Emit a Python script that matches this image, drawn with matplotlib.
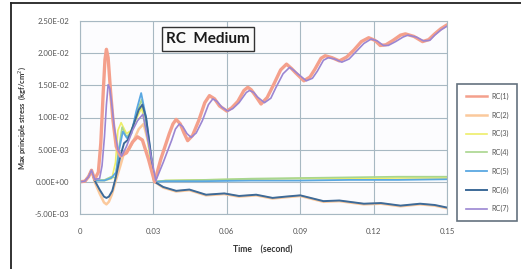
import matplotlib
matplotlib.use("Agg")
import matplotlib.pyplot as plt
from matplotlib.lines import Line2D
import numpy as np

plt.rcParams['font.family'] = ['Lato', 'DejaVu Sans']

# values, stress in units of 1e-3
SCALE = 1e-3

rc1_t = [0, 0.002, 0.0035, 0.0047, 0.006, 0.0075, 0.0085, 0.0095, 0.0102, 0.0108, 0.0115, 0.0125,
         0.0135, 0.0148, 0.0165, 0.019, 0.0215, 0.0235, 0.0255, 0.028, 0.0305, 0.033, 0.0365, 0.038,
         0.0393, 0.041, 0.0425, 0.044, 0.046, 0.0485, 0.051, 0.0529, 0.055, 0.057, 0.060, 0.062,
         0.0645, 0.067, 0.0686, 0.070, 0.0715, 0.074, 0.0765, 0.079, 0.082, 0.0844, 0.0865, 0.088,
         0.0915, 0.094, 0.096, 0.0985, 0.1002, 0.103, 0.106, 0.109, 0.112, 0.115, 0.118, 0.1205,
         0.1227, 0.125, 0.128, 0.131, 0.133, 0.1365, 0.14, 0.1425, 0.145, 0.1475, 0.15]
rc1_y = [0, 0.1, 0.8, 1.8, 0.4, 1.5, 6, 14, 19, 20.6, 19.3, 14,
         9.5, 5.5, 4, 4.5, 6.2, 7, 6.5, 3.5, 0, 3.5, 7.5, 9,
         9.7, 9.0, 7.6, 6.4, 7.2, 9.5, 12.3, 13.4, 12.9, 11.8, 11, 11.5,
         12.5, 14.2, 14.7, 14.3, 13.5, 12.1, 13.1, 15, 17.4, 18.3, 17.6, 17,
         15.7, 16.3, 17.5, 19.2, 19.6, 19.3, 18.8, 19.4, 20.5, 21.8, 22.4, 22,
         21.2, 21.3, 22, 22.8, 23, 22.6, 21.8, 22.1, 23, 23.8, 24.4]

rc2_t = [0, 0.002, 0.0035, 0.0047, 0.006, 0.008, 0.0098, 0.0108, 0.0118, 0.013, 0.0145, 0.0165,
         0.018, 0.02, 0.022, 0.024, 0.026, 0.028, 0.0305, 0.034, 0.0393, 0.0447, 0.0515, 0.059,
         0.065, 0.072, 0.0787, 0.084, 0.09, 0.0995, 0.106, 0.116, 0.123, 0.131, 0.139, 0.145, 0.15]
rc2_y = [0, 0.1, 0.8, 1.8, 0.0, -1.8, -3.2, -3.5, -3.1, -2.0, 0, 2.5,
         4.5, 5, 6.5, 8.2, 9, 6, 0, -0.9, -1.5, -1.3, -2.1, -1.9,
         -2.3, -2.1, -2.6, -2.4, -2.2, -3.1, -3.0, -3.5, -3.4, -3.8, -3.5, -3.7, -4.1]

rc3_t = [0, 0.002, 0.0035, 0.0047, 0.006, 0.01, 0.013, 0.0145, 0.0155, 0.0168, 0.019, 0.021,
         0.023, 0.0252, 0.027, 0.0302, 0.035, 0.05, 0.07, 0.09, 0.11, 0.13, 0.15]
rc3_y = [0, 0.1, 0.8, 1.8, 0.2, 0.2, 0.5, 3, 8, 9.2, 7.5, 8,
         9.8, 11.5, 8, 0, 0.2, 0.3, 0.4, 0.5, 0.5, 0.6, 0.6]

rc4_t = [0, 0.002, 0.0035, 0.0047, 0.006, 0.01, 0.0128, 0.0145, 0.0158, 0.0172, 0.019, 0.021,
         0.023, 0.0252, 0.027, 0.0302, 0.035, 0.05, 0.07, 0.09, 0.11, 0.13, 0.15]
rc4_y = [0, 0.1, 0.8, 1.8, 0.2, 0.3, 0.8, 0.6, 5, 8.5, 7, 7.8,
         10.5, 12.8, 9, 0, 0.2, 0.3, 0.5, 0.6, 0.7, 0.8, 0.8]

rc5_t = [0, 0.002, 0.0035, 0.0047, 0.006, 0.01, 0.0128, 0.0148, 0.016, 0.0175, 0.0192, 0.021,
         0.023, 0.025, 0.027, 0.0303, 0.035, 0.05, 0.07, 0.09, 0.11, 0.13, 0.15]
rc5_y = [0, 0.1, 0.8, 1.8, 0.2, 0.2, 0.6, 1.5, 5, 7.8, 6.8, 7.5,
         11, 13.8, 10, 0, 0.1, 0.1, 0.2, 0.2, 0.3, 0.3, 0.4]

rc6_t = [0, 0.002, 0.0035, 0.0047, 0.006, 0.008, 0.0098, 0.0108, 0.0118, 0.0132, 0.0145, 0.0165,
         0.018, 0.0195, 0.022, 0.024, 0.0255, 0.027, 0.0305, 0.034, 0.0393, 0.0447, 0.0515, 0.059,
         0.065, 0.072, 0.0787, 0.084, 0.09, 0.0995, 0.106, 0.116, 0.123, 0.131, 0.139, 0.145, 0.15]
rc6_y = [0, 0.1, 0.8, 1.8, 0.2, -1.2, -2.3, -2.5, -2.3, -1.4, 0.5, 4,
         6, 6.5, 9, 11.2, 12, 10, 0, -0.8, -1.4, -1.2, -2.0, -1.8,
         -2.2, -2.0, -2.5, -2.3, -2.1, -3.0, -2.9, -3.4, -3.3, -3.7, -3.4, -3.6, -4.0]

rc7_t = [0, 0.002, 0.0035, 0.0047, 0.006, 0.008, 0.009, 0.01, 0.0108, 0.0115, 0.0122, 0.013,
         0.014, 0.0155, 0.017, 0.019, 0.0215, 0.0235, 0.0257, 0.028, 0.031, 0.034, 0.0375, 0.039,
         0.0406, 0.042, 0.0437, 0.0454, 0.0475, 0.05, 0.0525, 0.0543, 0.056, 0.058, 0.0604, 0.0625,
         0.065, 0.068, 0.0693, 0.071, 0.0725, 0.0754, 0.078, 0.080, 0.083, 0.0857, 0.0875, 0.089,
         0.0925, 0.095, 0.097, 0.0995, 0.1015, 0.104, 0.107, 0.110, 0.113, 0.116, 0.119, 0.1215,
         0.124, 0.126, 0.129, 0.132, 0.134, 0.1375, 0.1405, 0.143, 0.145, 0.1475, 0.15]
rc7_y = [0, 0.1, 0.8, 1.8, 0.4, 0.5, 2.5, 7, 12, 15.1, 14.5, 12,
         8.5, 5, 4, 5.5, 8, 9.5, 10.5, 6, 0.2, 3, 6.5, 8.2,
         9, 8.6, 7.5, 6.9, 7.6, 9.5, 12, 12.9, 12.5, 11.6, 11, 11.4,
         12.3, 13.9, 14.2, 13.9, 13.2, 12.3, 13, 14.6, 16.8, 17.8, 17.3, 16.8,
         15.7, 16.1, 17.2, 18.9, 19.3, 19.1, 18.6, 19.1, 20.3, 21.5, 22.2, 21.9,
         21.2, 21.2, 21.8, 22.5, 22.8, 22.5, 21.9, 22, 22.8, 23.6, 24.2]

labels = ['RC(1)', 'RC(2)', 'RC(3)', 'RC(4)', 'RC(5)', 'RC(6)', 'RC(7)']
colors = ['#f4a08c', '#fbc99c', '#eeee6a', '#a9d68e', '#5aa8e2', '#3d6a98', '#9b86d2']
widths = [2.4, 1.8, 1.2, 1.2, 1.3, 1.4, 1.2]

x_ticks = [0, 0.03, 0.06, 0.09, 0.12, 0.15]
x_tick_labels = ['0', '0.03', '0.06', '0.09', '0.12', '0.15']
y_ticks = [-5e-3, 0, 5e-3, 1e-2, 1.5e-2, 2e-2, 2.5e-2]
y_tick_labels = ['-5.00E-03', '0.00E+00', '5.00E-03', '1.00E-02', '1.50E-02', '2.00E-02', '2.50E-02']

series = [(rc1_t, rc1_y), (rc2_t, rc2_y), (rc3_t, rc3_y), (rc4_t, rc4_y),
          (rc5_t, rc5_y), (rc6_t, rc6_y), (rc7_t, rc7_y)]

fig = plt.figure(figsize=(5.21, 2.69), dpi=100)
fig.patch.set_facecolor('white')
ax = fig.add_axes([80 / 521, 1 - 214 / 269, 367 / 521, 193 / 269])
ax.set_facecolor('#fcfcfe')

# draw order: lower/near-zero first, thick salmon on top of its purple partner
order = [1, 2, 3, 4, 5, 0, 6]
for i in order:
    t, y = series[i]
    ax.plot(t, np.array(y) * SCALE, color=colors[i], lw=widths[i],
            solid_joinstyle='round', solid_capstyle='round')

ax.set_xlim(0, 0.15)
ax.set_ylim(-5e-3, 2.5e-2)
ax.set_xticks(x_ticks)
ax.set_xticklabels(x_tick_labels)
ax.set_yticks(y_ticks)
ax.set_yticklabels(y_tick_labels)
ax.tick_params(length=0, labelsize=5.6, labelcolor='#555555')
ax.tick_params(axis='x', pad=10)
ax.tick_params(axis='y', pad=8)
ax.grid(True, color='#a7b8c2', lw=0.8)
ax.set_axisbelow(True)
for s in ax.spines.values():
    s.set_color('#a7b8c2')
    s.set_linewidth(0.8)

fig.text(22 / 521, 1 - 118 / 269, 'Max principle stress  (kgf/cm$^2$)', rotation=90,
         ha='center', va='center', fontsize=5.4, fontweight='bold', color='#333333')
fig.text(263 / 521, 1 - 250 / 269, 'Time    (second)', ha='center', va='center',
         fontsize=6.2, fontweight='bold', color='#333333')

fig.text(208 / 521, 1 - 39 / 269, 'RC  Medium', ha='center', va='center',
         fontsize=11, fontweight='bold', color='#1a1a1a',
         bbox=dict(boxstyle='square,pad=0.3', fc='#fbfbfb', ec='#333333', lw=1.0))

handles = [Line2D([], [], color=colors[i], lw=min(widths[i], 1.8)) for i in range(7)]
leg = fig.legend(handles, labels, loc='upper left', bbox_to_anchor=(457 / 521, 1 - 84 / 269),
                 fontsize=5.2, frameon=True, fancybox=False, labelspacing=1.6,
                 handlelength=3.0, handletextpad=0.5, borderpad=1.2, borderaxespad=0)
leg.get_frame().set_edgecolor('#3d4f5f')
leg.get_frame().set_linewidth(1.2)
for txt in leg.get_texts():
    txt.set_color('#555555')

# outer frame, partly cut off on the right and bottom
fig.add_artist(Line2D([11 / 521, 11 / 521], [0, 1 - 3 / 269], color='#222222', lw=1.3))
fig.add_artist(Line2D([11 / 521, 1], [1 - 3 / 269, 1 - 3 / 269], color='#222222', lw=1.3))

fig.savefig('out.png', dpi=100)
